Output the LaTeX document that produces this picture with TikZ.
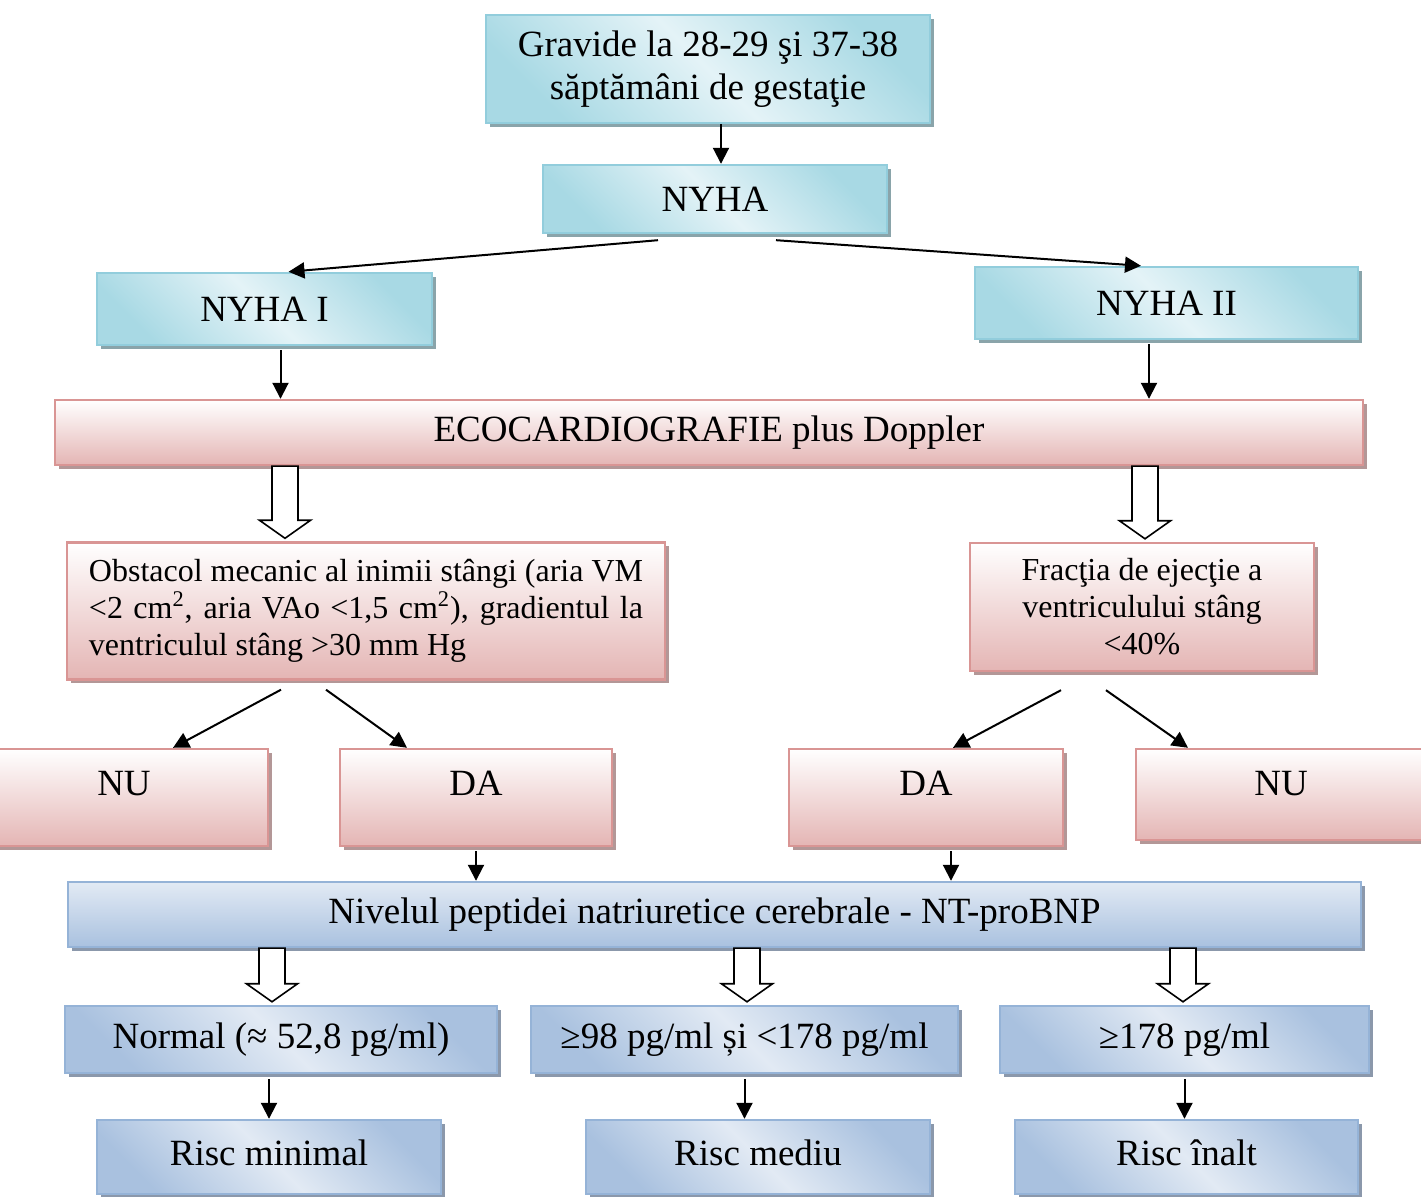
\documentclass[tikz,border=0pt]{standalone}
\usepackage{fontspec}
\setmainfont{Liberation Serif}
\usetikzlibrary{arrows.meta,shadows,calc,positioning}

\definecolor{tealline}{HTML}{92CDDC}
\definecolor{tealdark}{HTML}{A8D9E4}
\definecolor{teallight}{HTML}{E4F3F7}
\definecolor{tealshadow}{HTML}{8AA4AA}
\definecolor{pinkline}{HTML}{D99594}
\definecolor{pinkdark}{HTML}{E4B5B4}
\definecolor{pinkshadow}{HTML}{B39797}
\definecolor{blueline}{HTML}{95B3D7}
\definecolor{bluedark}{HTML}{A9C1DF}
\definecolor{bluelight}{HTML}{E2EAF4}
\definecolor{blueshadow}{HTML}{8B98AB}

\tikzset{
  box/.style={rectangle,line width=1.2pt,inner sep=2pt,font=\fontsize{18.5}{21.5}\selectfont},
  tealbox/.style={box,draw=tealline,top color=tealdark,bottom color=tealdark,middle color=teallight,shading angle=-45,
    drop shadow={shadow xshift=2pt,shadow yshift=-2pt,fill=tealshadow,opacity=1}},
  pinkbox/.style={box,draw=pinkline,top color=white,bottom color=pinkdark,
    drop shadow={shadow xshift=2pt,shadow yshift=-2pt,fill=pinkshadow,opacity=1}},
  answer/.style={pinkbox,text height=12pt,text depth=14pt},
  levelbox/.style={box,draw=blueline,top color=bluelight,bottom color=bluedark,
    drop shadow={shadow xshift=2pt,shadow yshift=-2pt,fill=blueshadow,opacity=1}},
  bluebox/.style={box,draw=blueline,top color=bluedark,bottom color=bluedark,middle color=bluelight,shading angle=-45,
    drop shadow={shadow xshift=2pt,shadow yshift=-2pt,fill=blueshadow,opacity=1}},
  arr/.style={-{Triangle[length=8pt,width=8pt]},line width=1pt},
}

% hollow block arrow: x position, upper node, lower node
\newcommand{\hollowdown}[3]{%
  \draw[line width=0.8pt,fill=white] let \p1=(#1,0), \p2=(#2.south), \p3=(#3.north) in
    (\x1-6.5pt,\y2) -- (\x1+6.5pt,\y2) -- (\x1+6.5pt,\y3+10.5pt) -- (\x1+12.75pt,\y3+10.5pt)
    -- (\x1,\y3+1.5pt) -- (\x1-12.75pt,\y3+10.5pt) -- (\x1-6.5pt,\y3+10.5pt) -- cycle;}

\begin{document}
\begin{tikzpicture}[x=0.5pt,y=-0.5pt]
\useasboundingbox (0,0) rectangle (1421,1197);
\clip (0,0) rectangle (1421,1197);

% Start and NYHA classes
\node[tealbox,minimum width=222pt,minimum height=54pt,align=center] (gravide) at (708,69) {Gravide la 28-29 şi 37-38\\săptămâni de gestaţie};
\node[tealbox,minimum width=172pt,minimum height=34pt] (nyha) at (715,199) {NYHA};
\node[tealbox,minimum width=167.5pt,minimum height=36pt] (nyhaI) at (264.5,309) {NYHA I};
\node[tealbox,minimum width=191.5pt,minimum height=36pt] (nyhaII) at (1166.5,303) {NYHA II};

% Echocardiography
\node[pinkbox,minimum width=654pt,minimum height=32.5pt] (eco) at (709,432.5) {ECOCARDIOGRAFIE plus Doppler};
\node[pinkbox,minimum width=299pt,minimum height=68.5pt,text width=277pt,align=justify,
  font=\fontsize{16}{18.5}\selectfont] (obst) at (366,611)
  {Obstacol mecanic al inimii stângi (aria VM \textless 2 cm\textsuperscript{2}, aria VAo \textless 1,5 cm\textsuperscript{2}), gradientul la ventriculul stâng \textgreater 30 mm Hg};
\node[pinkbox,minimum width=172pt,minimum height=64pt,align=center,
  font=\fontsize{16}{18.5}\selectfont] (frac) at (1142,607)
  {Fracţia de ejecţie a\\ventriculului stâng\\\textless 40\%};

% Answers
\node[answer,minimum width=144pt,minimum height=48.5pt] (nuL) at (124,797.5) {NU};
\node[answer,minimum width=136pt,minimum height=48.5pt] (daL) at (476,797.5) {DA};
\node[answer,minimum width=137pt,minimum height=48.5pt] (daR) at (926,797.5) {DA};
\node[answer,minimum width=145pt,minimum height=45.5pt,text depth=11pt] (nuR) at (1281,794.5) {NU};

% NT-proBNP levels and risk
\node[levelbox,minimum width=646.5pt,minimum height=32.5pt] (niv) at (714.5,914.5) {Nivelul peptidei natriuretice cerebrale - NT-proBNP};
\node[bluebox,minimum width=216pt,minimum height=33.5pt] (norm) at (281,1039.5) {Normal (≈ 52,8 pg/ml)};
\node[bluebox,minimum width=213.5pt,minimum height=33.5pt] (mid) at (744.5,1039.5) {≥98 pg/ml și \textless 178 pg/ml};
\node[bluebox,minimum width=184.5pt,minimum height=33.5pt] (high) at (1184.5,1039.5) {≥178 pg/ml};
\node[bluebox,minimum width=172pt,minimum height=37pt,text depth=4pt] (rmin) at (269,1157) {Risc minimal};
\node[bluebox,minimum width=172pt,minimum height=37pt,text depth=4pt] (rmed) at (758,1157) {Risc mediu};
\node[bluebox,minimum width=171.5pt,minimum height=37pt,text depth=4pt] (rhigh) at (1186.5,1157) {Risc înalt};

% Connectors
\coordinate (g1) at ([xshift=6.5pt]gravide.south);
\coordinate (i1) at ([xshift=8pt]nyhaI.south);
\coordinate (ii1) at ([xshift=-8.75pt]nyhaII.south);
\coordinate (d2) at ([xshift=12.5pt]daR.south);
\draw[arr] (g1) -- (g1 |- nyha.north);
\draw[arr] ([xshift=-28.5pt,yshift=-3pt]nyha.south) -- ([xshift=12pt]nyhaI.north);
\draw[arr] ([xshift=30.5pt,yshift=-3pt]nyha.south) -- ([xshift=-12.75pt]nyhaII.north);
\draw[arr] ([yshift=-2pt]i1) -- (i1 |- eco.north);
\draw[arr] ([yshift=-2pt]ii1) -- (ii1 |- eco.north);
\hollowdown{285}{eco}{obst}
\hollowdown{1145}{eco}{frac}
\draw[arr] ([xshift=-42.5pt,yshift=-4.5pt]obst.south) -- ([xshift=24.5pt]nuL.north);
\draw[arr] ([xshift=-20pt,yshift=-4.5pt]obst.south) -- ([xshift=-34.5pt]daL.north);
\draw[arr] ([xshift=-40.5pt,yshift=-9pt]frac.south) -- ([xshift=13.5pt]daR.north);
\draw[arr] ([xshift=-18pt,yshift=-9pt]frac.south) -- ([xshift=-46.5pt]nuR.north);
\draw[arr] ([yshift=-2pt]daL.south) -- (daL.south |- niv.north);
\draw[arr] ([yshift=-2pt]d2) -- (d2 |- niv.north);
\hollowdown{272}{niv}{norm}
\hollowdown{747}{niv}{mid}
\hollowdown{1183}{niv}{high}
\draw[arr] ([yshift=-2.5pt]norm.south -| rmin.north) -- (rmin.north);
\draw[arr] ([yshift=-2.5pt]mid.south) -- (mid.south |- rmed.north);
\draw[arr] ([yshift=-2.5pt]high.south) -- (high.south |- rhigh.north);
\end{tikzpicture}
\end{document}
